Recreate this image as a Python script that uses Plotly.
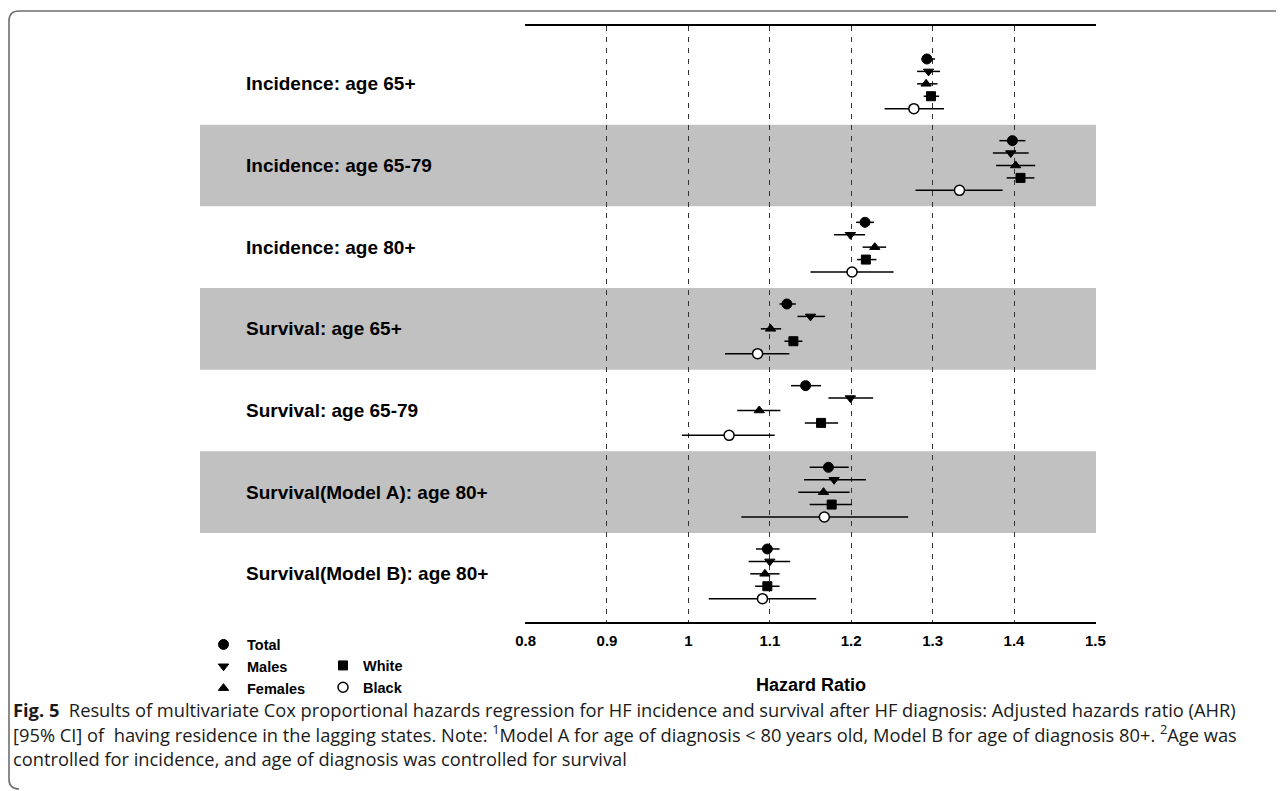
import plotly.graph_objects as go

# ---------------- data ----------------
groups = [
    "Incidence: age 65+",
    "Incidence: age 65-79",
    "Incidence: age 80+",
    "Survival: age 65+",
    "Survival: age 65-79",
    "Survival(Model A): age 80+",
    "Survival(Model B): age 80+",
]
series = ["Total", "Males", "Females", "White", "Black"]

total_hr = [1.293, 1.398, 1.217, 1.121, 1.144, 1.172, 1.097]
total_lo = [1.286, 1.382, 1.206, 1.112, 1.126, 1.149, 1.083]
total_hi = [1.303, 1.414, 1.228, 1.132, 1.163, 1.197, 1.112]

males_hr = [1.295, 1.396, 1.199, 1.150, 1.199, 1.179, 1.100]
males_lo = [1.281, 1.374, 1.179, 1.134, 1.172, 1.142, 1.074]
males_hi = [1.309, 1.418, 1.217, 1.168, 1.227, 1.218, 1.125]

females_hr = [1.292, 1.402, 1.229, 1.101, 1.087, 1.166, 1.094]
females_lo = [1.281, 1.378, 1.214, 1.089, 1.060, 1.135, 1.076]
females_hi = [1.306, 1.426, 1.243, 1.114, 1.113, 1.198, 1.112]

white_hr = [1.298, 1.408, 1.218, 1.129, 1.163, 1.176, 1.097]
white_lo = [1.289, 1.391, 1.207, 1.118, 1.143, 1.149, 1.082]
white_hi = [1.308, 1.425, 1.231, 1.140, 1.184, 1.201, 1.112]

black_hr = [1.277, 1.333, 1.201, 1.085, 1.050, 1.167, 1.091]
black_lo = [1.241, 1.279, 1.150, 1.045, 0.992, 1.065, 1.025]
black_hi = [1.314, 1.386, 1.252, 1.124, 1.106, 1.270, 1.157]

xticks = [0.8, 0.9, 1.0, 1.1, 1.2, 1.3, 1.4, 1.5]
xticklabels = ["0.8", "0.9", "1", "1.1", "1.2", "1.3", "1.4", "1.5"]

caption_lines = [
    "<b>Fig. 5</b>  Results of multivariate Cox proportional hazards regression for HF incidence and survival after HF diagnosis: Adjusted hazards ratio (AHR)",
    "[95% CI] of  having residence in the lagging states. Note: <sup>1</sup>Model A for age of diagnosis &lt; 80 years old, Model B for age of diagnosis 80+. <sup>2</sup>Age was",
    "controlled for incidence, and age of diagnosis was controlled for survival",
]

# ---------------- layout helpers ----------------
OFF = 8                     # page body margin
W, H = 1284 - OFF, 791 - OFF
def px(x):
    return (x - OFF) / W
def py(y):
    return 1 - (y - OFF) / H

ROW_STEP = 0.152
FONT = "Liberation Sans, Arial, Helvetica, sans-serif"

styles = {
    "Total":   dict(symbol="circle", size=10, color="black", line=dict(color="black", width=1), legend="legend"),
    "Males":   dict(symbol="triangle-down", size=9, color="black", line=dict(color="black", width=1), legend="legend"),
    "Females": dict(symbol="triangle-up", size=9, color="black", line=dict(color="black", width=1), legend="legend"),
    "White":   dict(symbol="square", size=9, color="black", line=dict(color="black", width=1), legend="legend2"),
    "Black":   dict(symbol="circle", size=10, color="white", line=dict(color="black", width=1.5), legend="legend2"),
}
values = {
    "Total": (total_hr, total_lo, total_hi),
    "Males": (males_hr, males_lo, males_hi),
    "Females": (females_hr, females_lo, females_hi),
    "White": (white_hr, white_lo, white_hi),
    "Black": (black_hr, black_lo, black_hi),
}

fig = go.Figure()
for r, name in enumerate(series):
    hr, lo, hi = values[name]
    st = styles[name]
    ys = [g + (r - 2) * ROW_STEP for g in range(len(groups))]
    fig.add_trace(go.Scatter(
        x=hr, y=ys, mode="markers", name=name, legend=st["legend"],
        marker=dict(symbol=st["symbol"], size=st["size"], color=st["color"], line=st["line"]),
        error_x=dict(type="data", symmetric=False,
                     array=[h - v for h, v in zip(hi, hr)],
                     arrayminus=[v - l for v, l in zip(hr, lo)],
                     color="black", thickness=1.5, width=0),
        hoverinfo="x+name",
    ))

shapes = []
for g in range(len(groups)):
    if g % 2 == 1:
        shapes.append(dict(type="rect", xref="paper", yref="y",
                           x0=px(200), x1=px(1096), y0=g - 0.5, y1=g + 0.5,
                           fillcolor="#c1c1c1", line=dict(width=0), layer="below"))

# figure frame (top + left with rounded corner)
frame = (f"M {px(1284)},{py(11)} L {px(19)},{py(11)} Q {px(9)},{py(11)} {px(9)},{py(21)} "
         f"L {px(9)},{py(779)} Q {px(9)},{py(789)} {px(19)},{py(789)}")
shapes.append(dict(type="path", xref="paper", yref="paper", path=frame,
                   line=dict(color="#6e6e6e", width=1.6)))

annotations = []
for g, lab in enumerate(groups):
    annotations.append(dict(text=lab, xref="paper", yref="y", x=px(244), y=g,
                            xanchor="left", yanchor="middle", showarrow=False,
                            font=dict(family=FONT, size=19, color="black", weight="bold")))
annotations.append(dict(text="Hazard Ratio", xref="paper", yref="paper",
                        x=px(811), y=py(685), xanchor="center", yanchor="middle",
                        showarrow=False,
                        font=dict(family=FONT, size=18, color="black", weight="bold")))
caption_y = [709.5, 733.5, 758]
for yy, line in zip(caption_y, caption_lines):
    annotations.append(dict(text=line, xref="paper", yref="paper",
                            x=px(11), y=py(yy), xanchor="left", yanchor="middle",
                            showarrow=False,
                            font=dict(family="Open Sans, sans-serif", size=18.3, color="#1a1a1a")))

fig.update_layout(
    width=W, height=H,
    margin=dict(l=0, r=0, t=0, b=0, autoexpand=False),
    paper_bgcolor="white", plot_bgcolor="rgba(0,0,0,0)",
    showlegend=True,
    xaxis=dict(domain=[px(525), px(1096)], range=[0.7993, 1.5007],
               tickvals=xticks, ticktext=xticklabels, ticks="", ticklabelstandoff=4,
               tickfont=dict(family=FONT, size=15, color="black", weight="bold"),
               showgrid=True, gridcolor="#333333", gridwidth=1, griddash="5px,6px",
               showline=True, linecolor="black", linewidth=1.5, mirror=True,
               zeroline=False, fixedrange=True),
    yaxis=dict(domain=[py(622), py(26)], range=[6.59, -0.708],
               showgrid=False, zeroline=False, showticklabels=False,
               showline=False, fixedrange=True),
    legend=dict(x=px(200), y=py(628.5), xanchor="left", yanchor="top", itemwidth=37,
                bgcolor="rgba(0,0,0,0)", borderwidth=0, tracegroupgap=0,
                font=dict(family=FONT, size=14.5, color="black", weight="bold")),
    legend2=dict(x=px(323), y=py(649.5), xanchor="left", yanchor="top",
                 bgcolor="rgba(0,0,0,0)", borderwidth=0, tracegroupgap=0,
                 font=dict(family=FONT, size=14.5, color="black", weight="bold")),
    shapes=shapes,
    annotations=annotations,
)

fig.write_html("out.html")
